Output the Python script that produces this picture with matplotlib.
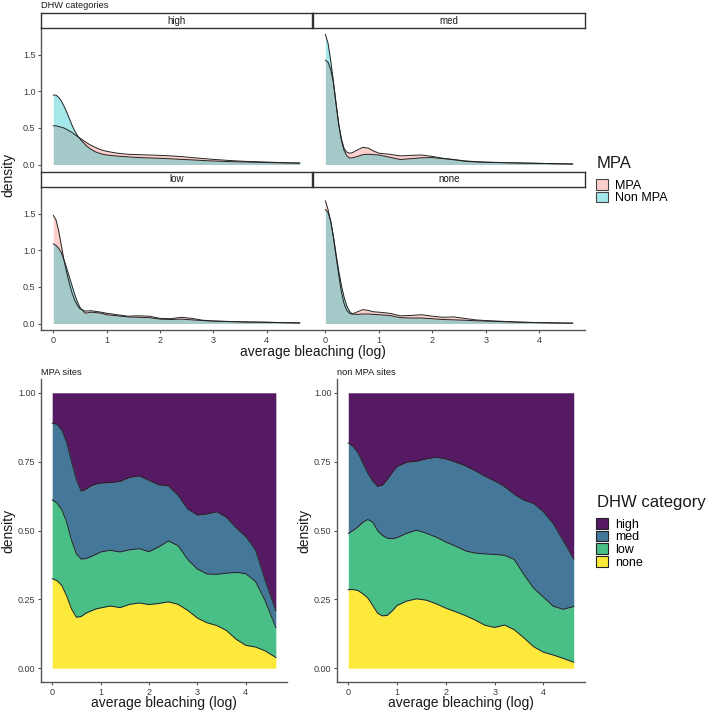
import numpy as np
import matplotlib.pyplot as plt
from matplotlib.patches import Patch
from matplotlib.colors import to_rgba

plt.rcParams['font.family'] = ['Liberation Sans', 'DejaVu Sans']


## data


# density curves (top facets), x = average bleaching (log)
dens_x = [0, 0.05, 0.1, 0.15, 0.2, 0.25, 0.3, 0.35, 0.4, 0.45, 0.5, 0.6, 0.7, 0.8, 0.9, 1.0,
          1.2, 1.4, 1.6, 1.8, 2.0, 2.2, 2.4, 2.6, 2.8, 3.0, 3.3, 3.6, 4.0, 4.3, 4.62]

high_mpa = [0.53, 0.53, 0.52, 0.51, 0.50, 0.48, 0.46, 0.44, 0.41, 0.385, 0.36, 0.31, 0.265, 0.23, 0.20, 0.18,
            0.155, 0.14, 0.135, 0.13, 0.125, 0.118, 0.108, 0.095, 0.082, 0.07, 0.055, 0.043, 0.033, 0.026, 0.02]
high_non = [0.95, 0.95, 0.92, 0.87, 0.80, 0.72, 0.63, 0.54, 0.46, 0.40, 0.35, 0.27, 0.21, 0.17, 0.145, 0.13,
            0.115, 0.105, 0.095, 0.09, 0.085, 0.078, 0.07, 0.063, 0.055, 0.048, 0.04, 0.034, 0.027, 0.022, 0.018]
med_mpa = [1.43, 1.40, 1.30, 1.12, 0.82, 0.55, 0.35, 0.22, 0.17, 0.155, 0.16, 0.20, 0.235, 0.225, 0.185, 0.155,
           0.14, 0.118, 0.125, 0.13, 0.11, 0.085, 0.068, 0.05, 0.04, 0.033, 0.027, 0.022, 0.016, 0.011, 0.007]
med_non = [1.78, 1.66, 1.42, 1.14, 0.84, 0.55, 0.33, 0.19, 0.12, 0.09, 0.09, 0.11, 0.135, 0.14, 0.135, 0.13,
           0.10, 0.068, 0.08, 0.092, 0.095, 0.08, 0.065, 0.045, 0.035, 0.03, 0.025, 0.02, 0.015, 0.01, 0.006]
low_mpa = [1.48, 1.42, 1.27, 1.07, 0.87, 0.70, 0.55, 0.42, 0.32, 0.25, 0.20, 0.17, 0.175, 0.165, 0.155, 0.14,
           0.12, 0.10, 0.105, 0.10, 0.07, 0.065, 0.085, 0.07, 0.045, 0.035, 0.028, 0.022, 0.018, 0.012, 0.008]
low_non = [1.09, 1.07, 1.03, 0.97, 0.87, 0.76, 0.64, 0.52, 0.40, 0.30, 0.22, 0.14, 0.155, 0.15, 0.14, 0.12,
           0.105, 0.09, 0.085, 0.08, 0.06, 0.055, 0.06, 0.05, 0.04, 0.032, 0.026, 0.02, 0.016, 0.011, 0.007]
none_mpa = [1.68, 1.56, 1.40, 1.18, 0.92, 0.66, 0.43, 0.27, 0.18, 0.14, 0.13, 0.16, 0.19, 0.18, 0.16, 0.155,
            0.14, 0.105, 0.11, 0.12, 0.10, 0.085, 0.09, 0.07, 0.05, 0.04, 0.03, 0.02, 0.012, 0.008, 0.005]
none_non = [1.56, 1.52, 1.40, 1.20, 0.95, 0.72, 0.52, 0.36, 0.24, 0.17, 0.13, 0.125, 0.13, 0.13, 0.125, 0.12,
            0.11, 0.08, 0.075, 0.075, 0.065, 0.055, 0.05, 0.045, 0.038, 0.033, 0.025, 0.018, 0.011, 0.007, 0.004]

facets = ['high', 'med', 'low', 'none']
mpa_labels = ['MPA', 'Non MPA']

# stacked (position = fill) densities, cumulative share from the bottom
stack_x = [0, 0.1, 0.2, 0.3, 0.4, 0.5, 0.6, 0.7, 0.8, 0.9, 1.0, 1.2, 1.4, 1.6, 1.8, 2.0, 2.2, 2.4,
           2.6, 2.8, 3.0, 3.2, 3.4, 3.6, 3.8, 4.0, 4.2, 4.4, 4.62]

mpa_cum_none = [0.325, 0.318, 0.3, 0.262, 0.215, 0.185, 0.188, 0.2, 0.208, 0.215, 0.219, 0.226, 0.22, 0.232,
                0.237, 0.231, 0.235, 0.241, 0.232, 0.21, 0.182, 0.165, 0.155, 0.137, 0.105, 0.083, 0.077,
                0.063, 0.039]
mpa_cum_low = [0.611, 0.6, 0.575, 0.53, 0.465, 0.415, 0.396, 0.398, 0.405, 0.413, 0.422, 0.428, 0.422, 0.43,
               0.434, 0.423, 0.44, 0.462, 0.445, 0.395, 0.36, 0.342, 0.341, 0.345, 0.348, 0.343, 0.315,
               0.245, 0.148]
mpa_cum_med = [0.89, 0.885, 0.865, 0.82, 0.75, 0.685, 0.643, 0.65, 0.662, 0.668, 0.672, 0.674, 0.678, 0.693,
               0.698, 0.682, 0.666, 0.662, 0.628, 0.578, 0.556, 0.56, 0.568, 0.548, 0.51, 0.478, 0.43,
               0.32, 0.209]

non_cum_none = [0.285, 0.286, 0.282, 0.27, 0.255, 0.228, 0.2, 0.19, 0.192, 0.208, 0.228, 0.244, 0.252, 0.247,
                0.234, 0.218, 0.205, 0.191, 0.175, 0.156, 0.148, 0.157, 0.14, 0.11, 0.078, 0.058, 0.048,
                0.036, 0.022]
non_cum_low = [0.489, 0.5, 0.513, 0.53, 0.54, 0.53, 0.5, 0.482, 0.472, 0.47, 0.474, 0.49, 0.501, 0.49,
               0.476, 0.458, 0.443, 0.426, 0.418, 0.415, 0.413, 0.41, 0.395, 0.34, 0.29, 0.258, 0.225,
               0.214, 0.224]
non_cum_med = [0.818, 0.805, 0.782, 0.745, 0.708, 0.68, 0.66, 0.665, 0.685, 0.71, 0.732, 0.748, 0.751, 0.76,
               0.766, 0.76, 0.748, 0.735, 0.717, 0.697, 0.68, 0.66, 0.632, 0.61, 0.598, 0.568, 0.525,
               0.465, 0.397]

dhw_labels = ['high', 'med', 'low', 'none']


## styling


W, H = 708, 712
mpa_col = '#F8766D'
non_col = '#00BFC4'
dens_alpha = 0.35
dhw_cols = {'high': '#440154', 'med': '#31688E', 'low': '#35B779', 'none': '#FDE725'}
line_col = '#222222'
axis_col = '#555555'
text_col = '#3A3A3A'

fig = plt.figure(figsize=(W / 100, H / 100), dpi=100)


# place axes in pixel coordinates (left, top, right, bottom)
def axes_px(l, t, r, b):
    return fig.add_axes([l / W, 1 - b / H, (r - l) / W, (b - t) / H])


def style_axis(ax, show_left, show_bottom):
    for s in ['top', 'right']:
        ax.spines[s].set_visible(False)
    ax.spines['left'].set_visible(show_left)
    ax.spines['bottom'].set_visible(show_bottom)
    for s in ['left', 'bottom']:
        ax.spines[s].set_color(axis_col)
        ax.spines[s].set_linewidth(1.0)
    ax.tick_params(axis='y', left=show_left, labelleft=show_left, length=2.5, width=0.8,
                   colors=axis_col, labelcolor=text_col, labelsize=6.5, pad=1.5)
    ax.tick_params(axis='x', bottom=show_bottom, labelbottom=show_bottom, length=2.5, width=0.8,
                   colors=axis_col, labelcolor=text_col, labelsize=6.5, pad=1.5)
    ax.patch.set_alpha(0)


def legend_block(title, handles, labels, title_y, keys_top):
    fig.text(597 / W, 1 - title_y / H, title, fontsize=12, color='#1A1A1A', ha='left', va='center')
    fig.legend(handles=handles, labels=labels, loc='upper left',
               bbox_to_anchor=(596 / W, 1 - keys_top / H), frameon=False, fontsize=9,
               handlelength=0.95, handleheight=0.95, labelspacing=0.0, handletextpad=0.6,
               borderaxespad=0, borderpad=0)


## top: density facets


facet_data = {'high': (high_mpa, high_non), 'med': (med_mpa, med_non),
              'low': (low_mpa, low_non), 'none': (none_mpa, none_non)}
facet_box = {'high': (41, 28, 312, 171), 'med': (313, 28, 585, 171),
             'low': (41, 187, 312, 330), 'none': (313, 187, 585, 330)}

for name in facets:
    l, t, r, b = facet_box[name]
    ax = axes_px(l, t, r, b)
    mpa, non = facet_data[name]
    ax.fill_between(dens_x, mpa, color=mpa_col, alpha=dens_alpha, lw=0)
    ax.plot(dens_x, mpa, color=line_col, lw=0.7)
    ax.fill_between(dens_x, non, color=non_col, alpha=dens_alpha, lw=0)
    ax.plot(dens_x, non, color=line_col, lw=0.7)
    ax.set_xlim(-0.231, 4.851)
    ax.set_ylim(-0.089, 1.869)
    ax.set_yticks([0, 0.5, 1.0, 1.5])
    ax.set_yticklabels(['0.0', '0.5', '1.0', '1.5'])
    ax.set_xticks([0, 1, 2, 3, 4])
    style_axis(ax, show_left=(l < 100), show_bottom=(b > 200))

    # facet strip
    sax = axes_px(l, t - 15, r, t)
    sax.set_xticks([])
    sax.set_yticks([])
    for s in sax.spines.values():
        s.set_color('#333333')
        s.set_linewidth(1.0)
    sax.text(0.5, 0.5, name, ha='center', va='center', fontsize=7, color='#1A1A1A',
             transform=sax.transAxes)

fig.text(41 / W, 1 - 6 / H, 'DHW categories', fontsize=6.7, color='#1A1A1A', va='center', ha='left')
fig.text(313 / W, 1 - 352 / H, 'average bleaching (log)', fontsize=10, color='#1A1A1A',
         ha='center', va='center')
fig.text(8 / W, 1 - 175 / H, 'density', fontsize=10, color='#1A1A1A', rotation=90,
         ha='center', va='center')

legend_block('MPA',
             [Patch(facecolor=to_rgba(mpa_col, dens_alpha), edgecolor='#444444', lw=0.8),
              Patch(facecolor=to_rgba(non_col, dens_alpha), edgecolor='#444444', lw=0.8)],
             mpa_labels, title_y=163, keys_top=179)


## bottom: stacked proportions


stack_sets = [('MPA sites', mpa_cum_none, mpa_cum_low, mpa_cum_med, (41, 379, 287, 682)),
              ('non MPA sites', non_cum_none, non_cum_low, non_cum_med, (337, 379, 585, 682))]

for title, c_none, c_low, c_med, (l, t, r, b) in stack_sets:
    ax = axes_px(l, t, r, b)
    ones = np.ones(len(stack_x))
    ax.fill_between(stack_x, 0, c_none, color=dhw_cols['none'], alpha=0.9, lw=0)
    ax.fill_between(stack_x, c_none, c_low, color=dhw_cols['low'], alpha=0.9, lw=0)
    ax.fill_between(stack_x, c_low, c_med, color=dhw_cols['med'], alpha=0.9, lw=0)
    ax.fill_between(stack_x, c_med, ones, color=dhw_cols['high'], alpha=0.9, lw=0)
    for edge in (c_none, c_low, c_med):
        ax.plot(stack_x, edge, color=line_col, lw=0.7)
    ax.set_xlim(-0.231, 4.851)
    ax.set_ylim(-0.05, 1.05)
    ax.set_yticks([0, 0.25, 0.5, 0.75, 1.0])
    ax.set_yticklabels(['0.00', '0.25', '0.50', '0.75', '1.00'])
    ax.set_xticks([0, 1, 2, 3, 4])
    style_axis(ax, True, True)
    fig.text(l / W, 1 - 372 / H, title, fontsize=6.7, color='#1A1A1A', va='center', ha='left')
    fig.text((l + r) / 2 / W, 1 - 703 / H, 'average bleaching (log)', fontsize=10,
             color='#1A1A1A', ha='center', va='center')
    fig.text((l - 33) / W, 1 - 531 / H, 'density', fontsize=10, color='#1A1A1A', rotation=90,
             ha='center', va='center')

legend_block('DHW category',
             [Patch(facecolor=to_rgba(dhw_cols[k], 0.9), edgecolor='#222222', lw=0.8)
              for k in dhw_labels],
             dhw_labels, title_y=503, keys_top=518)

fig.savefig('out.png', dpi=100)
